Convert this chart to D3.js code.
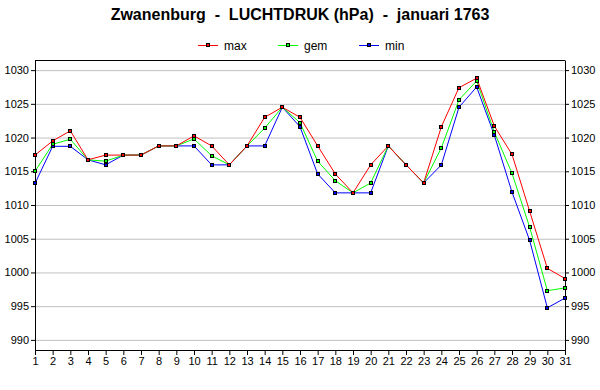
<!DOCTYPE html>
<html>
<head>
<meta charset="utf-8">
<script src="https://cdn.jsdelivr.net/npm/d3@7"></script>
<style>
  body { margin: 0; background: #fff; }
  svg { display: block; font-family: "Liberation Sans", Arial, sans-serif; }
</style>
</head>
<body>
<div id="chart"></div>
<script>
// Zwanenburg luchtdruk januari 1763
const dagen = d3.range(1, 32);
const maxWaarden = [1017.4, 1019.5, 1021.0, 1016.7, 1017.4, 1017.4, 1017.4, 1018.76, 1018.76, 1020.25,
	1018.76, 1015.95, 1018.76, 1023.0, 1024.5, 1023.0, 1018.76, 1014.6, 1011.8, 1015.95,
	1018.76, 1015.95, 1013.27, 1021.6, 1027.4, 1028.8, 1021.7, 1017.5, 1009.06, 1000.6, 999.1];
const gemWaarden = [1015.0, 1019.0, 1019.75, 1016.7, 1016.5, 1017.4, 1017.4, 1018.76, 1018.76, 1019.8,
	1017.3, 1015.95, 1018.76, 1021.4, 1024.5, 1022.2, 1016.5, 1013.6, 1011.8, 1013.27,
	1018.76, 1015.95, 1013.27, 1018.47, 1025.6, 1028.4, 1020.8, 1014.7, 1006.7, 997.3, 997.7];
const minWaarden = [1013.2, 1018.7, 1018.7, 1016.7, 1015.95, 1017.4, 1017.4, 1018.76, 1018.76, 1018.76,
	1015.95, 1015.95, 1018.76, 1018.76, 1024.5, 1021.6, 1014.6, 1011.8, 1011.8, 1011.8,
	1018.76, 1015.95, 1013.27, 1015.94, 1024.5, 1027.5, 1020.35, 1011.9, 1004.75, 994.75, 996.2];
const yTicks = [990, 995, 1000, 1005, 1010, 1015, 1020, 1025, 1030];

const reeksen = [
	{ naam: 'min', kleur: '#0000ff', waarden: minWaarden },
	{ naam: 'gem', kleur: '#00ff00', waarden: gemWaarden },
	{ naam: 'max', kleur: '#ff0000', waarden: maxWaarden }
];

const width = 600, height = 390;
const links = 35, rechts = 565, boven = 60, onder = 350;

const svg = d3.select('#chart').append('svg')
	.attr('width', width)
	.attr('height', height);

const x = d3.scaleLinear().domain([1, 31]).range([links, rechts]);
const y = d3.scaleLinear().domain([988.5, 1031.5]).range([onder, boven]);
const fmt = d3.format('d');

// titel
svg.append('text')
	.attr('x', 300)
	.attr('y', 20)
	.attr('text-anchor', 'middle')
	.attr('font-size', '16px')
	.attr('font-weight', 'bold')
	.style('white-space', 'pre')
	.text('Zwanenburg  -  LUCHTDRUK (hPa)  -  januari 1763');

// rasterlijnen
svg.append('g')
	.attr('transform', `translate(${links},0)`)
	.call(d3.axisLeft(y).tickValues(yTicks).tickSize(-(rechts - links)).tickFormat(''))
	.call(g => g.select('.domain').remove())
	.selectAll('line').attr('stroke', '#c0c0c0');

// assen
const asLinks = svg.append('g')
	.attr('transform', `translate(${links},0)`)
	.call(d3.axisLeft(y).tickValues(yTicks).tickSize(4).tickPadding(2).tickSizeOuter(0).tickFormat(fmt));
const asRechts = svg.append('g')
	.attr('transform', `translate(${rechts},0)`)
	.call(d3.axisRight(y).tickValues(yTicks).tickSize(4).tickPadding(2).tickSizeOuter(0).tickFormat(fmt));
const asOnder = svg.append('g')
	.attr('transform', `translate(0,${onder})`)
	.call(d3.axisBottom(x).tickValues(dagen).tickSize(5).tickPadding(2).tickSizeOuter(0).tickFormat(fmt));

[asLinks, asRechts, asOnder].forEach(g => {
	g.selectAll('text').attr('font-size', '11px').attr('fill', '#000').attr('font-family', '"Liberation Sans", Arial, sans-serif');
	g.selectAll('line, path').attr('stroke', '#000');
});

// bovenrand
svg.append('line')
	.attr('x1', links).attr('x2', rechts)
	.attr('y1', boven + 0.5).attr('y2', boven + 0.5)
	.attr('stroke', '#000');

// lijnen en markers
const lijn = d3.line()
	.x((d, i) => x(dagen[i]))
	.y(d => y(d));

reeksen.forEach(r => {
	svg.append('path')
		.datum(r.waarden)
		.attr('fill', 'none')
		.attr('stroke', r.kleur)
		.attr('stroke-width', 1)
		.attr('d', lijn);
});
reeksen.forEach(r => {
	svg.append('g').selectAll('rect')
		.data(r.waarden)
		.enter()
		.append('rect')
		.attr('x', (d, i) => Math.round(x(dagen[i])) - 1.5)
		.attr('y', d => Math.round(y(d)) - 1.5)
		.attr('width', 3)
		.attr('height', 3)
		.attr('fill', r.kleur)
		.attr('stroke', '#000')
		.attr('stroke-width', 1);
});

// legenda
const legendaX = [198, 278, 359];
const legenda = svg.append('g');
['max', 'gem', 'min'].forEach((naam, i) => {
	const r = reeksen.find(s => s.naam === naam);
	const lx = legendaX[i];
	legenda.append('line')
		.attr('x1', lx).attr('x2', lx + 20)
		.attr('y1', 45.5).attr('y2', 45.5)
		.attr('stroke', r.kleur);
	legenda.append('rect')
		.attr('x', lx + 8.5).attr('y', 43.5)
		.attr('width', 3).attr('height', 3)
		.attr('fill', r.kleur)
		.attr('stroke', '#000');
	legenda.append('text')
		.attr('x', lx + 26)
		.attr('y', 50)
		.attr('font-size', '12px')
		.text(naam);
});
</script>
</body>
</html>
